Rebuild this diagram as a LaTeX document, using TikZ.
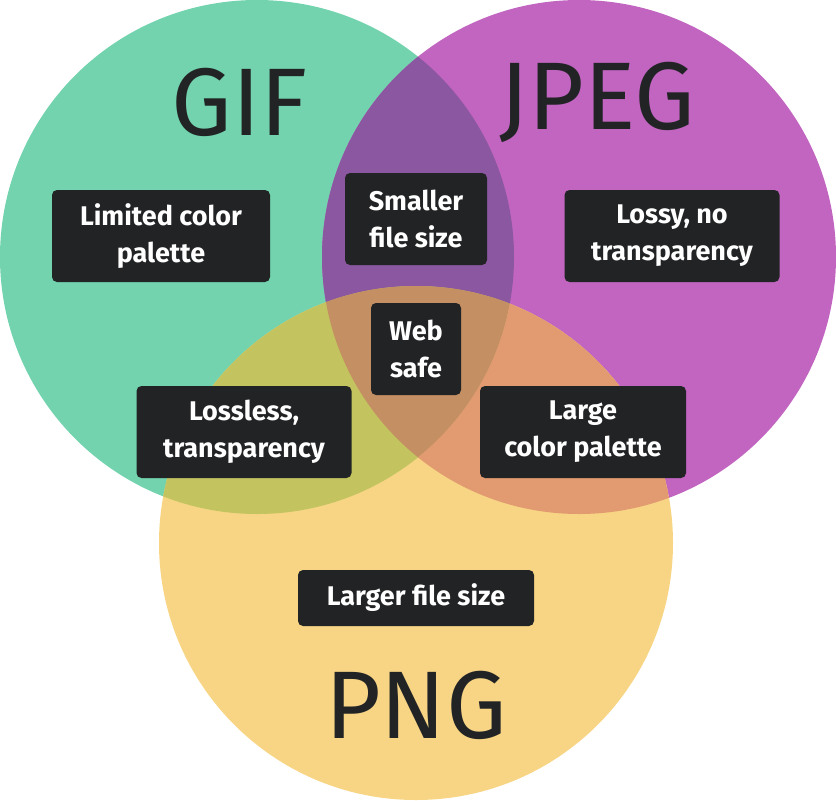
\documentclass[tikz,border=0pt]{standalone}
\usepackage{fontspec}
\setmainfont{Fira Sans}
\colorlet{gifc}{green!0!black}
\definecolor{gifc}{HTML}{72D3AE}
\definecolor{jpgc}{HTML}{C165C0}
\definecolor{pngc}{HTML}{F7D584}
\definecolor{gjc}{HTML}{8B57A0}
\definecolor{gpc}{HTML}{C3C45F}
\definecolor{jpc}{HTML}{E29A70}
\definecolor{allc}{HTML}{C48F62}
\definecolor{boxc}{HTML}{212325}
\tikzset{
    tag/.style={fill=boxc,text=white,rounded corners=5pt,align=center,
        font=\fontsize{27}{37}\selectfont\bfseries,inner sep=8pt},
    title/.style={font=\fontsize{96}{96}\selectfont,text=boxc}
}
\begin{document}
\begin{tikzpicture}[x=1pt,y=-1pt]
        \useasboundingbox (0,0) rectangle (836,801);
        \def\cg{(257,257) circle (257)}
        \def\cj{(579,257) circle (257)}
        \def\cp{(416,543) circle (257)}
        \fill [gifc] \cg;
        \fill [jpgc] \cj;
        \fill [pngc] \cp;
        \begin{scope}
            \clip \cg;
            \fill [gjc] \cj;
            \fill [gpc] \cp;
            \clip \cj;
            \fill [allc] \cp;
        \end{scope}
        \begin{scope}
            \clip \cj;
            \clip \cp;
            \begin{scope}[even odd rule]
                \clip \cg (-10,-10) rectangle (850,810);
                \fill [jpc] \cp;
            \end{scope}
        \end{scope}
        \node [title] (gif) at (240,102) {GIF};
        \node [title] (jpeg) at (597,102) {JPEG};
        \node [title] (png) at (416,705) {PNG};
        \node [tag,minimum width=218pt,minimum height=92pt] (limited) at (161,236) {Limited color\\palette};
        \node [tag,minimum width=142pt,minimum height=92pt] (smaller) at (416,219) {Smaller\\file size};
        \node [tag,minimum width=215pt,minimum height=92pt] (lossy) at (672,236) {Lossy, no\\transparency};
        \node [tag,minimum width=90pt,minimum height=92pt] (web) at (416,349) {Web\\safe};
        \node [tag,minimum width=215pt,minimum height=92pt] (lossless) at (244,432) {Lossless,\\transparency};
        \node [tag,minimum width=206pt,minimum height=92pt] (large) at (583,432) {Large\\color palette};
        \node [tag,minimum width=236pt,minimum height=56pt] (larger) at (416,598) {Larger file size};
    \end{tikzpicture}
\end{document}
